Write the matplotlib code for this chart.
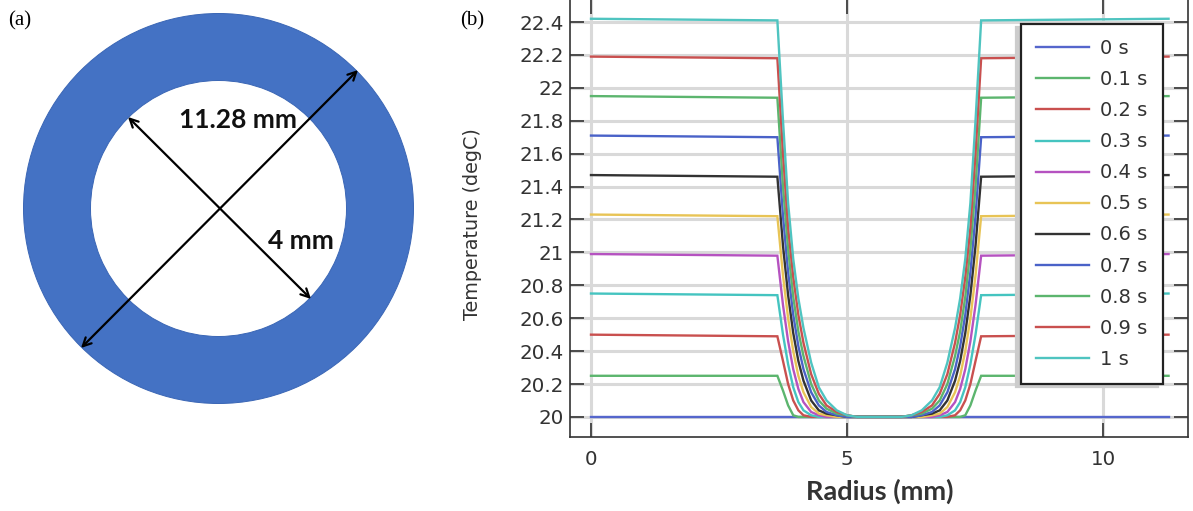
import matplotlib
matplotlib.use("Agg")
import matplotlib.pyplot as plt
from matplotlib.patches import Wedge

W, H = 1193, 511

# radius grid, left half then right half of the profile (mm)
radius_left = [0, 3.64, 3.75, 3.85, 3.95, 4.05, 4.15, 4.3, 4.45, 4.6, 4.8, 5.0, 5.2, 5.45]
radius_right = [5.81, 6.06, 6.26, 6.46, 6.66, 6.81, 6.96, 7.11, 7.21, 7.31, 7.41, 7.51, 7.62, 11.28]

# temperature on radius_left, the profile is mirrored on radius_right
t_00 = [20.0] * 14
t_01 = [20.25, 20.25, 20.16, 20.07, 20.01, 20.0, 20.0, 20.0, 20.0, 20.0, 20.0, 20.0, 20.0, 20.0]
t_02 = [20.50, 20.49, 20.34, 20.20, 20.10, 20.04, 20.01, 20.0, 20.0, 20.0, 20.0, 20.0, 20.0, 20.0]
t_03 = [20.75, 20.74, 20.50, 20.32, 20.18, 20.09, 20.04, 20.01, 20.0, 20.0, 20.0, 20.0, 20.0, 20.0]
t_04 = [20.99, 20.98, 20.68, 20.46, 20.29, 20.17, 20.09, 20.03, 20.01, 20.0, 20.0, 20.0, 20.0, 20.0]
t_05 = [21.23, 21.22, 20.86, 20.60, 20.40, 20.25, 20.15, 20.06, 20.02, 20.01, 20.0, 20.0, 20.0, 20.0]
t_06 = [21.47, 21.46, 21.04, 20.74, 20.51, 20.34, 20.22, 20.10, 20.04, 20.02, 20.01, 20.0, 20.0, 20.0]
t_07 = [21.71, 21.70, 21.22, 20.88, 20.62, 20.43, 20.29, 20.15, 20.07, 20.03, 20.01, 20.0, 20.0, 20.0]
t_08 = [21.95, 21.94, 21.40, 21.02, 20.73, 20.52, 20.37, 20.20, 20.10, 20.05, 20.02, 20.01, 20.0, 20.0]
t_09 = [22.19, 22.18, 21.60, 21.15, 20.85, 20.62, 20.45, 20.26, 20.14, 20.07, 20.03, 20.01, 20.0, 20.0]
t_10 = [22.42, 22.41, 21.80, 21.30, 20.96, 20.72, 20.54, 20.33, 20.18, 20.10, 20.04, 20.01, 20.0, 20.0]

series = [t_00, t_01, t_02, t_03, t_04, t_05, t_06, t_07, t_08, t_09, t_10]
labels = ["0 s", "0.1 s", "0.2 s", "0.3 s", "0.4 s", "0.5 s", "0.6 s", "0.7 s", "0.8 s", "0.9 s", "1 s"]
colors = ["#5566cc", "#5cb56e", "#c9504f", "#45c4c0", "#b552c0", "#e8c456", "#333333",
          "#4a62c8", "#5cb56e", "#c9504f", "#4fc4c0"]

y_ticks = [20, 20.2, 20.4, 20.6, 20.8, 21, 21.2, 21.4, 21.6, 21.8, 22, 22.2, 22.4]
y_tick_labels = ["20", "20.2", "20.4", "20.6", "20.8", "21", "21.2", "21.4", "21.6", "21.8", "22", "22.2", "22.4"]
x_ticks = [0, 5, 10]

plt.rcParams["font.family"] = "DejaVu Sans"
fig = plt.figure(figsize=(W / 100, H / 100), dpi=100)

# (a) annulus, drawn in picture pixels
ax0 = fig.add_axes([0, 0, 446 / W, 1])
ax0.set_xlim(0, 446)
ax0.set_ylim(H, 0)
ax0.axis("off")
ax0.add_patch(Wedge((218.5, 208.5), 195, 0, 360, width=67, facecolor="#4472c4", edgecolor="#3a66b5", lw=0.7))
arrow = dict(arrowstyle="<->", color="black", lw=1.6, shrinkA=0, shrinkB=0, mutation_scale=15)
ax0.annotate("", xy=(128, 117), xytext=(311, 299), arrowprops=arrow)
ax0.annotate("", xy=(81, 348), xytext=(358, 70), arrowprops=arrow)
ax0.text(238, 120, "11.28 mm", family="Lato", weight="bold", fontsize=19, ha="center", va="center", color="#111111")
ax0.text(301, 241, "4 mm", family="Lato", weight="bold", fontsize=19, ha="center", va="center", color="#111111")

fig.text(8 / W, 1 - 21 / H, "(a)", family="Liberation Serif", fontsize=15, va="center")
fig.text(460 / W, 1 - 21 / H, "(b)", family="Liberation Serif", fontsize=15, va="center")

# (b) temperature profiles
ax = fig.add_axes([570 / W, 1 - 437 / H, (1188 - 570) / W, 437 / H])
radius = radius_left + radius_right
for vals, label, c in zip(series, labels, colors):
    ax.plot(radius, vals + vals[::-1], color=c, lw=1.7, label=label, solid_joinstyle="miter")

ax.set_xlim(-0.41, 11.66)
ax.set_ylim(19.878, 22.534)
ax.set_xticks(x_ticks)
ax.set_yticks(y_ticks)
ax.set_yticklabels(y_tick_labels)
ax.grid(True, color="#d9d9d9", lw=2.2)
ax.set_axisbelow(True)
ax.tick_params(axis="both", direction="in", length=10, width=1.2, top=True, right=True,
               labelsize=14.3, labelcolor="#333333", color="#333333", pad=4.5)
ax.tick_params(axis="x", pad=9)
for name in ["left", "bottom", "right"]:
    ax.spines[name].set_color("#333333")
    ax.spines[name].set_linewidth(1.2)
ax.spines["top"].set_visible(False)

ax.set_ylabel("Temperature (degC)", fontsize=13.8, color="#333333")
ax.yaxis.set_label_coords((482 - 570) / (1188 - 570), 1 - 224 / 437)
ax.set_xlabel("Radius (mm)", family="Lato", weight="bold", fontsize=19.5, color="#333333")
ax.xaxis.set_label_coords((880 - 570) / (1188 - 570), 1 - 479 / 437)

leg = ax.legend(loc="upper left", bbox_to_anchor=((1021 - 570) / (1188 - 570), 1 - 24 / 437),
                borderaxespad=0, fancybox=False, framealpha=1, edgecolor="#222222", fontsize=14,
                labelspacing=0.62, handlelength=2.7, handletextpad=0.6, borderpad=0.78,
                labelcolor="#333333", shadow={"ox": -3.5, "oy": -2.5, "color": "#cccccc", "alpha": 1})
leg.get_frame().set_linewidth(1.6)

fig.savefig("out.png", dpi=100)
